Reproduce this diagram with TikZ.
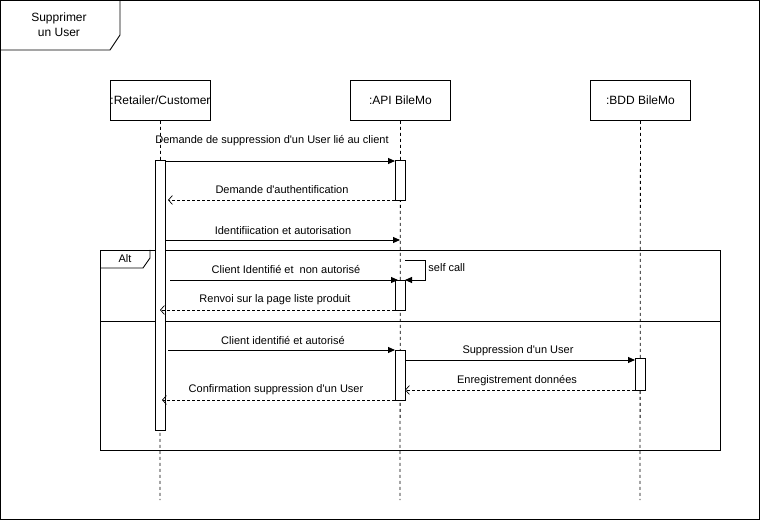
\documentclass[tikz,border=0pt]{standalone}
\usepackage{fontspec}
\setmainfont{Liberation Sans}[Ligatures=TeXOff]
\usetikzlibrary{arrows.meta,positioning}
\begin{document}
\begin{tikzpicture}[x=1pt,y=-1pt,
  line width=0.9pt,
  head/.style={draw, minimum width=100pt, minimum height=40pt, inner sep=0pt, font=\fontsize{12}{14}\selectfont, anchor=north west},
  act/.style={draw, fill=white, minimum width=10pt, inner sep=0pt, anchor=north west},
  life/.style={dashed, dash pattern=on 3pt off 3pt, line width=0.8pt},
  msg/.style={-{Triangle[length=7pt,width=6pt]}},
  ret/.style={dashed, dash pattern=on 3pt off 2pt, line width=0.7pt, -{Straight Barb[length=4pt,width=9pt,line width=0.7pt]}},
  lbl/.style={font=\fontsize{11}{13}\selectfont, inner sep=0pt}
]
\useasboundingbox (0,0) rectangle (761,521);
% outer frame
\draw (0.5,0.5) rectangle (759.5,519.5);
\draw (0,50) -- (110,50) -- (120,35) -- (120,0);
\node[lbl, align=center, font=\fontsize{12}{15}\selectfont] (title) at (59,25) {Supprimer\\un User};

% lifeline heads
\node[head] (rc) at (110,80) {:Retailer/Customer};
\node[head] (api) at (350,80) {:API BileMo};
\node[head] (bdd) at (590,80) {:BDD BileMo};
\coordinate (rcEnd) at (160,500);
\coordinate (apiEnd) at (400,500);
\coordinate (bddEnd) at (640,500);
\draw[life] (rc.south) -- (rcEnd);
\draw[life] (api.south) -- (apiEnd);
\draw[life] (bdd.south) -- (bddEnd);

% alt frame
\draw (100,250) rectangle (720,450);
\draw (100,268) -- (143,268) -- (150,258) -- (150,250);
\node[lbl] (alt) at (125,259) {Alt};
\draw (100,321) -- (720,321);

% activations
\node[act, minimum height=270pt] (a0) at (155,160) {};
\node[act, minimum height=40pt] (a1) at (395,160) {};
\node[act, minimum height=30pt] (a2) at (395,280) {};
\node[act, minimum height=50pt] (a3) at (395,350) {};
\node[act, minimum height=32pt] (b1) at (635,358) {};

% message endpoints
\coordinate (m1s) at (165,161); \coordinate (m1e) at (395,161);
\coordinate (m2s) at (395,200); \coordinate (m2e) at (168,200);
\coordinate (m3s) at (165,240); \coordinate (m3e) at (400,240);
\coordinate (m4s) at (170,280); \coordinate (m4e) at (398,280);
\coordinate (scs) at (405,260); \coordinate (sc1) at (425,260); \coordinate (sc2) at (425,280); \coordinate (sce) at (405,280);
\coordinate (m5s) at (395,310); \coordinate (m5e) at (160,310);
\coordinate (m6s) at (168,350); \coordinate (m6e) at (395,350);
\coordinate (m7s) at (405,360); \coordinate (m7e) at (635,360);
\coordinate (m8s) at (635,390); \coordinate (m8e) at (405,390);
\coordinate (m9s) at (395,400); \coordinate (m9e) at (162,400);

\draw[msg] (m1s) -- (m1e);
\node[lbl] (l1) at (272,141) {Demande de suppression d'un User lié au client};
\draw[ret] (m2s) -- (m2e);
\node[lbl] (l2) at (282,190) {Demande d'authentification};
\draw[msg] (m3s) -- (m3e);
\node[lbl] (l3) at (283,231) {Identifiication et autorisation};
\draw[msg] (m4s) -- (m4e);
\node[lbl] (l4) at (286,270) {Client Identifié et\ \ non autorisé};
\draw[msg] (scs) -- (sc1) -- (sc2) -- (sce);
\node[lbl, anchor=west] (l5) at (428,268) {self call};
\draw[ret] (m5s) -- (m5e);
\node[lbl] (l6) at (275,300) {Renvoi sur la page liste produit};
\draw[msg] (m6s) -- (m6e);
\node[lbl] (l7) at (283,341) {Client identifié et autorisé};
\draw[msg] (m7s) -- (m7e);
\node[lbl] (l8) at (518,351) {Suppression d'un User};
\draw[ret] (m8s) -- (m8e);
\node[lbl] (l9) at (517,381) {Enregistrement données};
\draw[ret] (m9s) -- (m9e);
\node[lbl] (l10) at (276,390) {Confirmation suppression d'un User};
\end{tikzpicture}
\end{document}
